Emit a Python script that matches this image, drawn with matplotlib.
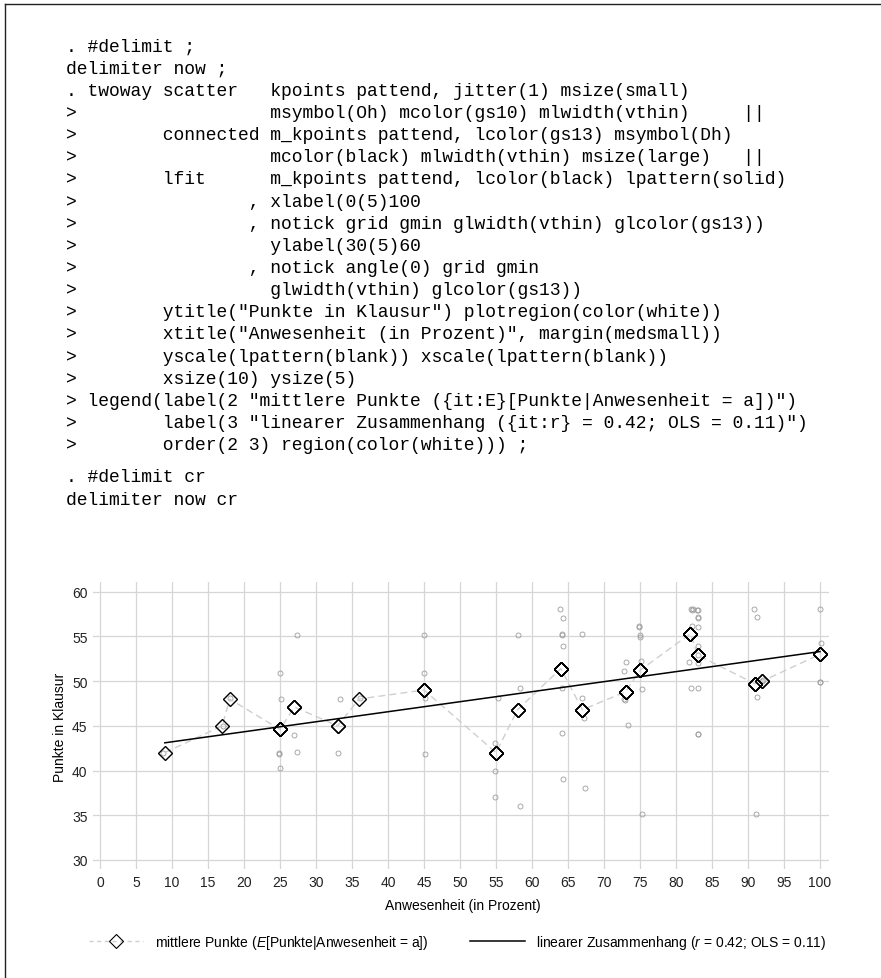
import matplotlib
matplotlib.use('Agg')
import matplotlib.pyplot as plt
from matplotlib.lines import Line2D
import numpy as np

plt.rcParams['font.family'] = ['Liberation Sans', 'DejaVu Sans']
plt.rcParams['mathtext.fontset'] = 'custom'
plt.rcParams['mathtext.rm'] = 'Liberation Sans'
plt.rcParams['mathtext.it'] = 'Liberation Sans:italic'

W, H = 881, 979

# Stata log shown above the chart
code_lines = [
    '. #delimit ;',
    'delimiter now ;',
    '. twoway scatter   kpoints pattend, jitter(1) msize(small)',
    '>                  msymbol(Oh) mcolor(gs10) mlwidth(vthin)     ||',
    '>        connected m_kpoints pattend, lcolor(gs13) msymbol(Dh)',
    '>                  mcolor(black) mlwidth(vthin) msize(large)   ||',
    '>        lfit      m_kpoints pattend, lcolor(black) lpattern(solid)',
    '>                , xlabel(0(5)100',
    '>                , notick grid gmin glwidth(vthin) glcolor(gs13))',
    '>                  ylabel(30(5)60',
    '>                , notick angle(0) grid gmin',
    '>                  glwidth(vthin) glcolor(gs13))',
    '>        ytitle("Punkte in Klausur") plotregion(color(white))',
    '>        xtitle("Anwesenheit (in Prozent)", margin(medsmall))',
    '>        yscale(lpattern(blank)) xscale(lpattern(blank))',
    '>        xsize(10) ysize(5)',
    '> legend(label(2 "mittlere Punkte ({it:E}[Punkte|Anwesenheit = a])")',
    '>        label(3 "linearer Zusammenhang ({it:r} = 0.42; OLS = 0.11)")',
    '>        order(2 3) region(color(white))) ;',
]
code_tail = ['. #delimit cr', 'delimiter now cr']

# individual points (jittered positions as they appear)
pts_x = [8.8, 17.1, 18.1,
         25.0, 25.1, 24.8, 24.9, 25.0,
         27.3, 26.9, 27.3,
         33.3, 33.1,
         36.1,
         45.0, 45.0, 45.1, 45.1,
         55.3, 54.8, 54.8, 54.9,
         58.0, 58.3, 58.3,
         63.9, 64.3, 64.2, 64.1, 64.3, 64.2, 64.2, 64.3,
         67.0, 66.9, 67.2, 67.3,
         73.1, 72.8, 72.8, 72.9, 73.3,
         74.8, 74.9, 75.0, 75.0, 75.2, 75.3, 75.3,
         82.1, 82.2, 82.3, 82.2, 81.8, 82.1,
         83.1, 82.9, 83.0, 83.0, 83.0, 83.1, 83.1, 83.0, 83.0, 83.0, 83.1,
         90.9, 91.3, 91.2, 91.1,
         92.0, 92.1,
         100.0, 100.1, 100.0, 100.05]
pts_y = [42.0, 45.0, 48.1,
         50.9, 48.0, 42.0, 41.9, 40.25,
         55.2, 44.0, 42.1,
         48.0, 42.0,
         48.1,
         55.2, 50.9, 48.1, 41.9,
         48.1, 43.1, 40.0, 37.0,
         55.2, 49.2, 36.0,
         58.1, 57.0, 55.2, 55.25, 53.9, 49.2, 44.2, 39.1,
         55.3, 48.1, 45.9, 38.0,
         52.1, 51.1, 48.0, 47.9, 45.1,
         56.2, 56.1, 55.2, 54.9, 52.3, 49.1, 35.1,
         58.1, 58.0, 58.1, 56.2, 52.1, 49.2,
         58.0, 58.0, 57.2, 57.1, 56.1, 53.9, 52.9, 52.0, 49.2, 44.1, 44.1,
         58.1, 57.2, 48.2, 35.1,
         50.0, 50.1,
         58.1, 54.3, 49.9, 49.85]

# mean points per attendance value and number of observations
mean_x = [9, 17, 18, 25, 27, 33, 36, 45, 55, 58, 64, 67, 73, 75, 82, 83, 91, 92, 100]
mean_y = [42.0, 45.0, 48.0, 44.6, 47.1, 45.0, 48.0, 49.0, 42.0, 46.8,
          51.4, 46.8, 48.8, 51.2, 55.3, 52.9, 49.7, 50.0, 53.0]
mean_n = [1, 1, 1, 5, 3, 2, 1, 4, 4, 3, 8, 4, 5, 7, 6, 11, 4, 2, 4]

# linear fit endpoints
fit_x = [9, 100]
fit_y = [43.1, 53.3]

xticks = list(range(0, 101, 5))
yticks = list(range(30, 61, 5))

fig = plt.figure(figsize=(W / 100, H / 100), dpi=100)

# frame (left and top edge)
fig.add_artist(Line2D([5 / W, 5 / W], [0, 1 - 5 / H], transform=fig.transFigure,
                      color='#222222', lw=1))
fig.add_artist(Line2D([5 / W, 1], [1 - 5 / H, 1 - 5 / H], transform=fig.transFigure,
                      color='#222222', lw=1))

# code block
for i, line in enumerate(code_lines):
    fig.text(66 / W, 1 - (47 + 22.15 * i) / H, line, family='Liberation Mono',
             fontsize=13, ha='left', va='center')
for i, line in enumerate(code_tail):
    fig.text(66 / W, 1 - (478 + 23 * i) / H, line, family='Liberation Mono',
             fontsize=13, ha='left', va='center')

ax = fig.add_axes([93 / W, 1 - 870 / H, 736 / W, 287 / H])
ax.set_xlim(-0.97, 101.25)
ax.set_ylim(28.99, 61.08)

ax.plot(pts_x, pts_y, ls='none', marker='o', ms=3.6, mfc='none', mec='#9c9c9c',
        mew=0.6, zorder=2)
ax.plot(mean_x, mean_y, color='#cfcfcf', lw=1.0, dashes=(5, 3), zorder=3)
dx = np.repeat(mean_x, mean_n)
dy = np.repeat(mean_y, mean_n)
ax.plot(dx, dy, ls='none', marker='D', ms=7, mfc='none', mec='black', mew=1.0, zorder=4)
ax.plot(fit_x, fit_y, color='black', lw=1.1, zorder=5)

ax.set_xticks(xticks)
ax.set_yticks(yticks)
ax.grid(True, color='#d6d6d6', lw=0.9)
ax.set_axisbelow(True)
ax.tick_params(length=0, labelsize=10, colors='#222222')
ax.tick_params(axis='x', pad=4)
ax.tick_params(axis='y', pad=4)
for s in ax.spines.values():
    s.set_visible(False)

fig.text(60 / W, 1 - 727 / H, 'Punkte in Klausur', rotation=90, ha='center',
         va='center', fontsize=10)
fig.text(463 / W, 1 - 906 / H, 'Anwesenheit (in Prozent)', ha='center',
         va='center', fontsize=10)

h1 = Line2D([], [], color='#cfcfcf', lw=1.0, dashes=(3, 2.5), marker='D', ms=7,
            mfc='none', mec='black', mew=0.8)
h2 = Line2D([], [], color='black', lw=1.1)
fig.legend([h1, h2],
           [r'mittlere Punkte ($E$[Punkte|Anwesenheit = a])',
            r'linearer Zusammenhang ($r$ = 0.42; OLS = 0.11)'],
           loc='center', bbox_to_anchor=(458 / W, 1 - 943 / H), ncol=2,
           frameon=False, fontsize=10, handlelength=3.9, handletextpad=0.85,
           columnspacing=3.0, numpoints=1)

fig.savefig('out.png', dpi=100)
